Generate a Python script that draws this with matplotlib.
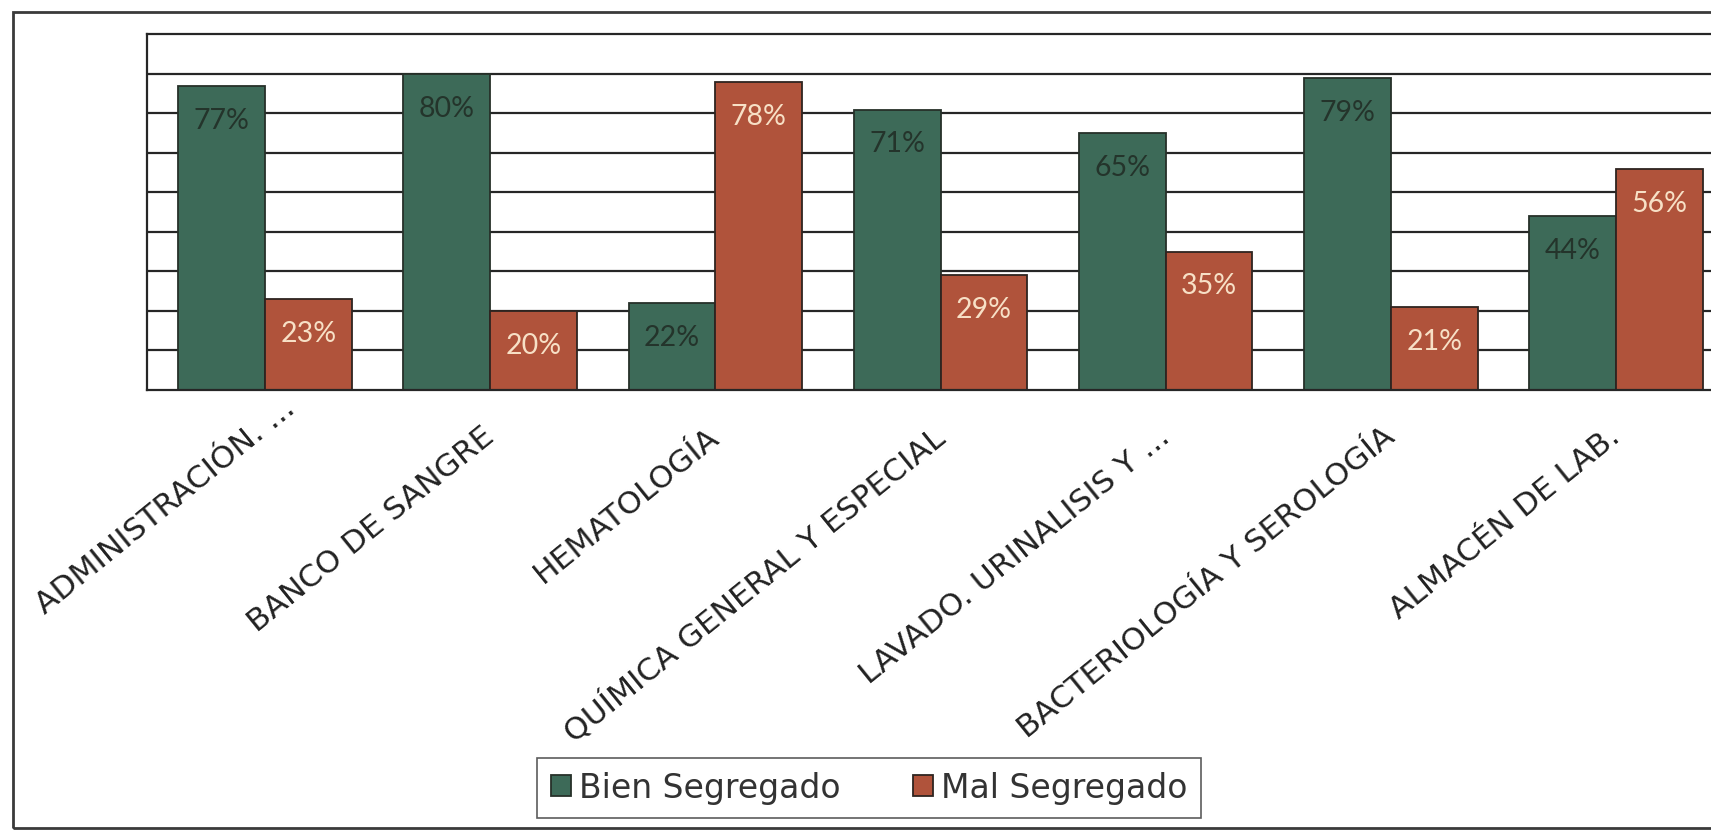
import matplotlib.pyplot as plt
import numpy as np
from matplotlib.patches import Rectangle
from matplotlib.transforms import ScaledTranslation

# Segregation results per laboratory area (fractions of total)
areas = ['ADMINISTRACIÓN. ...', 'BANCO DE SANGRE', 'HEMATOLOGÍA',
         'QUÍMICA GENERAL Y ESPECIAL', 'LAVADO. URINALISIS Y ...',
         'BACTERIOLOGÍA Y SEROLOGÍA', 'ALMACÉN DE LAB.']
bien = [0.77, 0.80, 0.22, 0.71, 0.65, 0.79, 0.44]
mal = [0.23, 0.20, 0.78, 0.29, 0.35, 0.21, 0.56]
series_names = ['Bien Segregado', 'Mal Segregado']

green = '#3d6a58'
red = '#b0533b'

fig = plt.figure(figsize=(17.11, 8.31), dpi=100)
fig.patch.set_facecolor('white')

# outer frame of the chart (right side runs off the page)
fig.patches.append(Rectangle((0.0076, 0.0036), 1.2, 0.982, transform=fig.transFigure,
                             fill=False, edgecolor='#3a3a3a', linewidth=2.0, zorder=0))

ax = fig.add_axes([0.0859, 0.5307, 0.9276, 0.4278])
x = np.arange(len(areas))
w = 0.385

ax.set_axisbelow(True)
ax.set_ylim(0, 0.9)
ax.set_xlim(-0.524, len(areas) - 1 + 0.524)
ax.set_yticks(np.arange(0.1, 0.85, 0.1))
ax.yaxis.grid(True, color='#262626', linewidth=1.6)
ax.tick_params(axis='y', length=0, labelleft=False)
for s in ax.spines.values():
    s.set_color('#262626')
    s.set_linewidth(1.6)

b1 = ax.bar(x - w / 2, bien, width=w, color=green, edgecolor='#263029', linewidth=1.3, label=series_names[0])
b2 = ax.bar(x + w / 2, mal, width=w, color=red, edgecolor='#2e2420', linewidth=1.3, label=series_names[1])

for xi, v in zip(x, bien):
    ax.annotate(f'{round(v * 100)}%', (xi - w / 2, v), xytext=(0, -25), textcoords='offset points',
                ha='center', va='center', fontsize=20.5, color='#24342b', family='Lato')
for xi, v in zip(x, mal):
    ax.annotate(f'{round(v * 100)}%', (xi + w / 2, v), xytext=(0, -25), textcoords='offset points',
                ha='center', va='center', fontsize=20.5, color='#f7e0c6', family='Lato')

ax.set_xticks(x)
ax.set_xticklabels(areas, rotation=39, ha='right', va='center', rotation_mode='anchor',
                   fontsize=22.5, color='#222222', family='DejaVu Sans')
ax.tick_params(axis='x', length=0, pad=31)
# the truncated first label sits a little further along its slope
first = ax.get_xticklabels()[0]
first.set_transform(first.get_transform() + ScaledTranslation(0.26, 0.28, fig.dpi_scale_trans))

leg = fig.legend(handles=[b1, b2], labels=series_names, loc='center', bbox_to_anchor=(0.508, 0.0517),
                 ncol=2, prop={'family': 'DejaVu Sans', 'size': 23.8},
                 frameon=True, fancybox=False, edgecolor='#333333', handlelength=0.6, handleheight=0.6,
                 handletextpad=0.25, columnspacing=2.2, borderpad=0.42, borderaxespad=0)
leg.get_frame().set_linewidth(1.2)
for t in leg.get_texts():
    t.set_color('#333333')

fig.savefig('out.png', dpi=100)
